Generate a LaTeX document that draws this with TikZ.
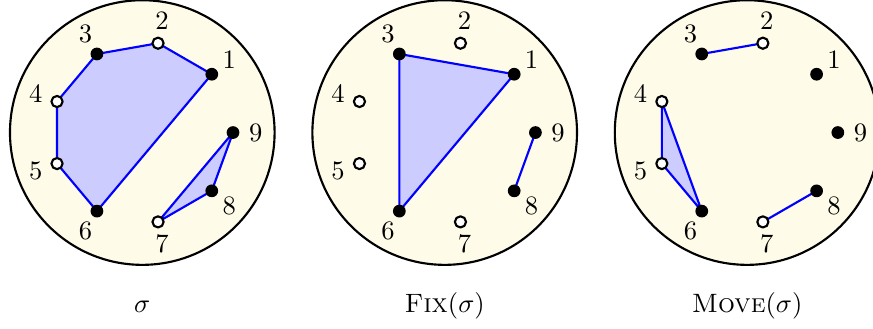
\documentclass[tikz,border=0pt]{standalone}
\usetikzlibrary{calc}
\definecolor{discfill}{RGB}{254,251,233}
\tikzset{
  disc/.style={draw=black,line width=0.8pt,fill=discfill},
  chord/.style={draw=blue,line width=0.8pt},
  block/.style={chord,fill=blue!20},
  fullpt/.style={circle,fill=black,inner sep=0pt,minimum size=4.8pt},
  openpt/.style={circle,draw=black,fill=white,line width=0.8pt,inner sep=0pt,minimum size=4.2pt},
}

\begin{document}
\begin{tikzpicture}[line cap=round,line join=round]
  \useasboundingbox (-1.882,-2.586) rectangle (9.665,1.753);
  % three discs with nine points each
  \foreach \c/\p in {0/s,4/f,8/m} {
    \draw[disc] (\c,0) circle (1.75);
    \foreach \k in {1,...,9} {
      \coordinate (\p\k) at ($(\c,0)+(40*\k:1.2)$);
      \node (\p l\k) at ($(\c,0)+(40*\k:1.5)$) {$\k$};
    }
  }
  % sigma
  \filldraw[block] (s1) -- (s2) -- (s3) -- (s4) -- (s5) -- (s6) -- cycle;
  \filldraw[block] (s7) -- (s8) -- (s9) -- cycle;
  % Fix
  \filldraw[block] (f1) -- (f3) -- (f6) -- cycle;
  \draw[chord] (f8) -- (f9);
  % Move
  \draw[chord] (m3) -- (m2);
  \filldraw[block] (m4) -- (m5) -- (m6) -- cycle;
  \draw[chord] (m7) -- (m8);
  % points on top
  \foreach \p in {s,f,m} {
    \foreach \k in {1,3,6,8,9}
      \node[fullpt] (\p d\k) at (\p\k) {};
    \foreach \k in {2,4,5,7}
      \node[openpt] (\p d\k) at (\p\k) {};
  }
  \node[anchor=base] (capS) at (0,-2.38) {$\sigma$};
  \node[anchor=base] (capF) at (4,-2.38) {\textsc{Fix}$(\sigma)$};
  \node[anchor=base] (capM) at (8,-2.38) {\textsc{Move}$(\sigma)$};
\end{tikzpicture}
\end{document}
